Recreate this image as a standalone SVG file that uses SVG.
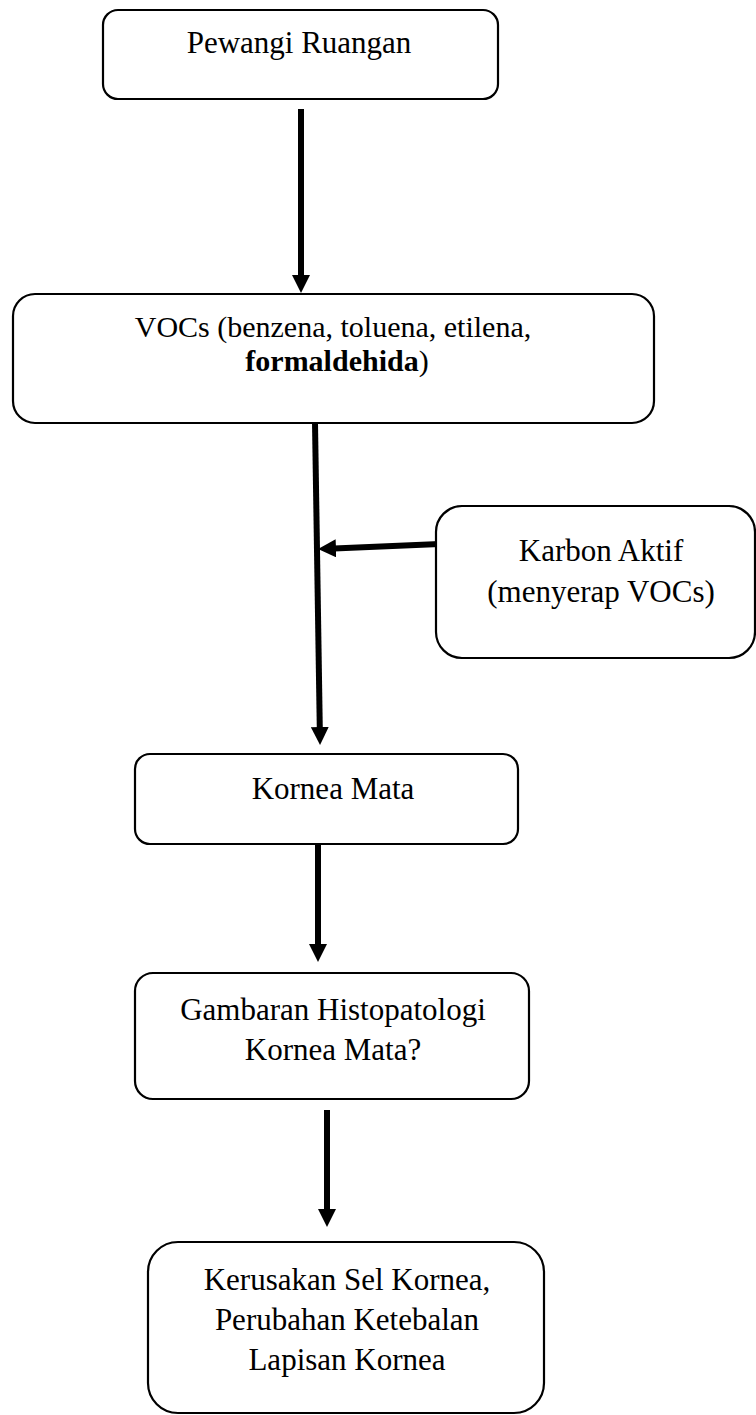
<svg xmlns="http://www.w3.org/2000/svg" width="756" height="1415" viewBox="0 0 756 1415">
<style>
.box{fill:#fff;stroke:#000;stroke-width:2.2}
.t{font-family:"Liberation Serif","Times New Roman",serif;font-size:31px;fill:#000;text-anchor:middle}
.s{font-size:30px}
.b{font-weight:bold}
.c{fill:none;stroke:#000;stroke-width:6}
</style>
<defs>
<marker id="ah" markerUnits="userSpaceOnUse" markerWidth="18" markerHeight="18" viewBox="0 0 18 18" refX="2" refY="9" orient="auto">
<path d="M0,0 L18,9 L0,18 Z" fill="#000"/>
</marker>
</defs>
<rect width="756" height="1415" fill="#fff"/>
<g id="connectors">
<path class="c" d="M301,109 L301,277" marker-end="url(#ah)"/>
<path class="c" d="M315,423 L319.8,729" marker-end="url(#ah)"/>
<path class="c" d="M463,543 L334,548.4" marker-end="url(#ah)"/>
<path class="c" d="M318,844 L318,946" marker-end="url(#ah)"/>
<path class="c" d="M327,1110 L327,1211" marker-end="url(#ah)"/>
</g>
<g id="n1">
<rect class="box" x="103" y="10" width="395" height="89" rx="15"/>
<text class="t" x="299" y="53">Pewangi Ruangan</text>
</g>
<g id="n2">
<rect class="box" x="13" y="294" width="641" height="129" rx="22"/>
<text class="t s" x="333" y="337">VOCs (benzena, toluena, etilena,</text>
<text class="t s" x="337" y="371"><tspan class="b">formaldehida</tspan>)</text>
</g>
<g id="n3">
<rect class="box" x="436" y="506" width="319" height="152" rx="26"/>
<text class="t" x="601" y="561">Karbon Aktif</text>
<text class="t" x="601" y="602">(menyerap VOCs)</text>
</g>
<g id="n4">
<rect class="box" x="135" y="754" width="383" height="90" rx="15"/>
<text class="t" x="333" y="799">Kornea Mata</text>
</g>
<g id="n5">
<rect class="box" x="135" y="973" width="394" height="126" rx="18"/>
<text class="t" x="333" y="1020">Gambaran Histopatologi</text>
<text class="t" x="333" y="1060">Kornea Mata?</text>
</g>
<g id="n6">
<rect class="box" x="148" y="1242" width="396" height="171" rx="30"/>
<text class="t" x="347" y="1290">Kerusakan Sel Kornea,</text>
<text class="t" x="347" y="1330">Perubahan Ketebalan</text>
<text class="t" x="347" y="1370">Lapisan Kornea</text>
</g>
</svg>
